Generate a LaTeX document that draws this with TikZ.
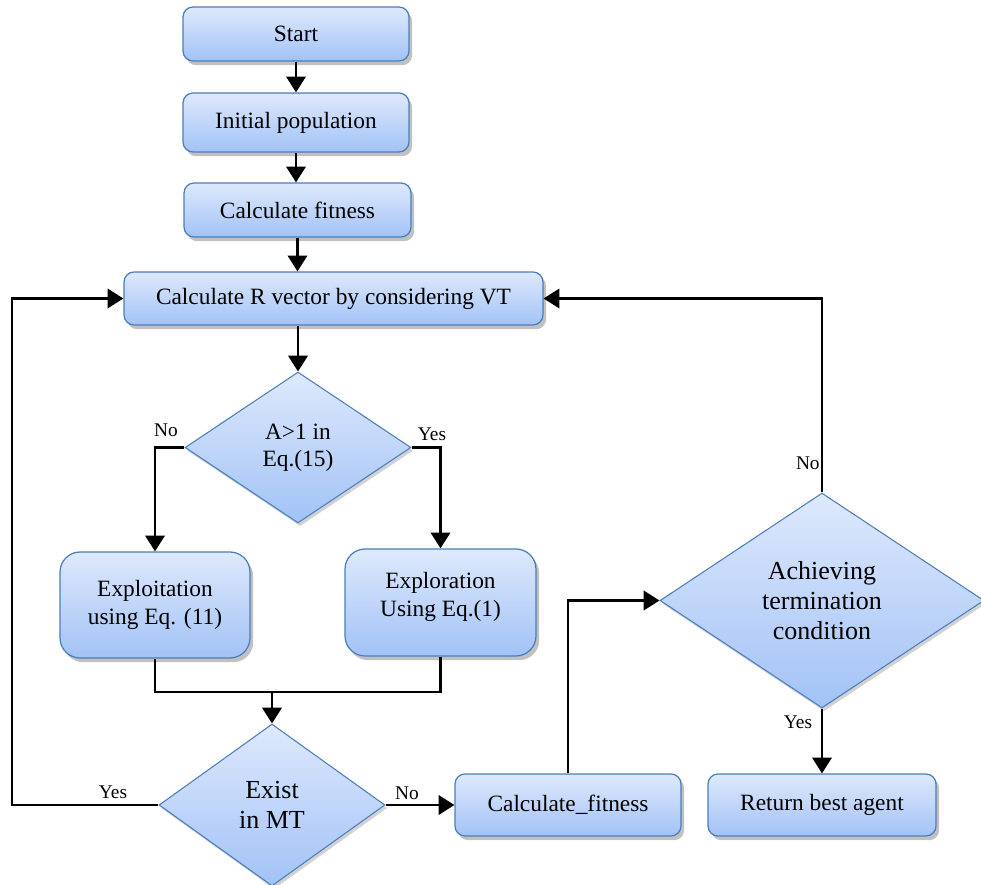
\documentclass[tikz,border=0pt]{standalone}
\usepackage{fontspec}
\setmainfont{Liberation Serif}
\newfontfamily\tnr{Liberation Serif}
\usepackage{tikz}
\usetikzlibrary{arrows.meta,shapes.geometric,shadows}

\definecolor{bordblue}{HTML}{4A7EBB}
\definecolor{toplite}{HTML}{DEE9FC}
\definecolor{botdark}{HTML}{A2C2F6}

\tikzset{
  proc/.style={rectangle, rounded corners=0.2cm, draw=bordblue, line width=0.7pt,
    top color=toplite, bottom color=botdark, inner sep=0pt, align=center,
    font=\tnr\fontsize{13.3}{16}\selectfont,
    drop shadow={shadow xshift=1.8pt, shadow yshift=-2.4pt, opacity=0.35, fill=black!70}},
  dec/.style={diamond, draw=bordblue, line width=0.6pt, aspect=1.5,
    top color=toplite, bottom color=botdark, inner sep=0pt, align=center,
    font=\tnr\fontsize{13.3}{15.3}\selectfont,
    drop shadow={shadow xshift=1.2pt, shadow yshift=-1.8pt, opacity=0.25, fill=black!70}},
  arr/.style={line width=1.5pt, -{Triangle[width=11pt,length=9pt]}},
  con/.style={line width=1.5pt},
  lbl/.style={inner sep=0pt, font=\tnr\fontsize{11}{13}\selectfont}
}

\begin{document}
\begin{tikzpicture}[x=0.02cm, y=-0.02cm]
\useasboundingbox (0,0) rectangle (981,885);

\node[proc, minimum width=4.52cm, minimum height=1.08cm] (start) at (296,34) {Start};
\node[proc, minimum width=4.52cm, minimum height=1.18cm] (init) at (296,122.5) {Initial population};
\node[proc, minimum width=4.54cm, minimum height=1.08cm] (calcfit) at (297.5,210) {Calculate fitness};
\node[proc, minimum width=8.38cm, minimum height=1.06cm] (rvec) at (333.5,298.5) {Calculate R vector by considering VT};
\node[dec, minimum width=4.52cm, minimum height=3.02cm] (acheck) at (298,447.5) {A>1 in\\Eq.(15)};
\node[proc, rounded corners=0.4cm, minimum width=3.8cm, minimum height=2.12cm] (exploit) at (155,605) {Exploitation\\using Eq. (11)};
\node[proc, rounded corners=0.4cm, minimum width=3.82cm, minimum height=2.14cm] (explore) at (440.5,602.5) {Exploration\\Using Eq.(1)\\[-7pt]~};
\node[dec, minimum width=4.52cm, minimum height=3.24cm, font=\tnr\fontsize{14.8}{17}\selectfont] (exist) at (272,805) {Exist\\in MT};
\node[proc, minimum width=4.52cm, minimum height=1.24cm] (calcfit2) at (568,805) {Calculate\_fitness};
\node[dec, minimum width=6.48cm, minimum height=4.3cm, font=\tnr\fontsize{14.8}{17}\selectfont] (achieve) at (822,600.5) {Achieving\\termination\\condition};
\node[proc, minimum width=4.56cm, minimum height=1.24cm] (best) at (822,805) {Return best agent};

\coordinate (join) at (272,692);
\coordinate (back) at (12,805);

\draw[arr] (start) -- (init);
\draw[arr] (init) -- (init |- calcfit.north);
\draw[arr] (calcfit) -- (calcfit |- rvec.north);
\draw[arr] (acheck |- rvec.south) -- (acheck.north);
\draw[arr] (acheck.west) -| (exploit.north);
\draw[arr] (acheck.east) -| (explore.north);
\draw[con] (exploit.south) |- (explore.south |- join) -- (explore.south);
\draw[arr] (join) -- (exist.north);
\draw[arr] (exist.west) -- (back) |- (rvec.west);
\draw[arr] (exist.east) -- (calcfit2.west);
\draw[arr] (calcfit2.north) |- (achieve.west);
\draw[arr] (achieve.south) -- (best.north);
\draw[arr] (achieve.north) |- (rvec.east);

\node[lbl] (noA) at (166,430) {No};
\node[lbl] (yesA) at (432,434) {Yes};
\node[lbl] (yesMT) at (113,792) {Yes};
\node[lbl] (noMT) at (407,793) {No};
\node[lbl, anchor=east] (noEnd) at (820,463) {No};
\node[lbl] (yesEnd) at (798,722) {Yes};
\end{tikzpicture}
\end{document}
